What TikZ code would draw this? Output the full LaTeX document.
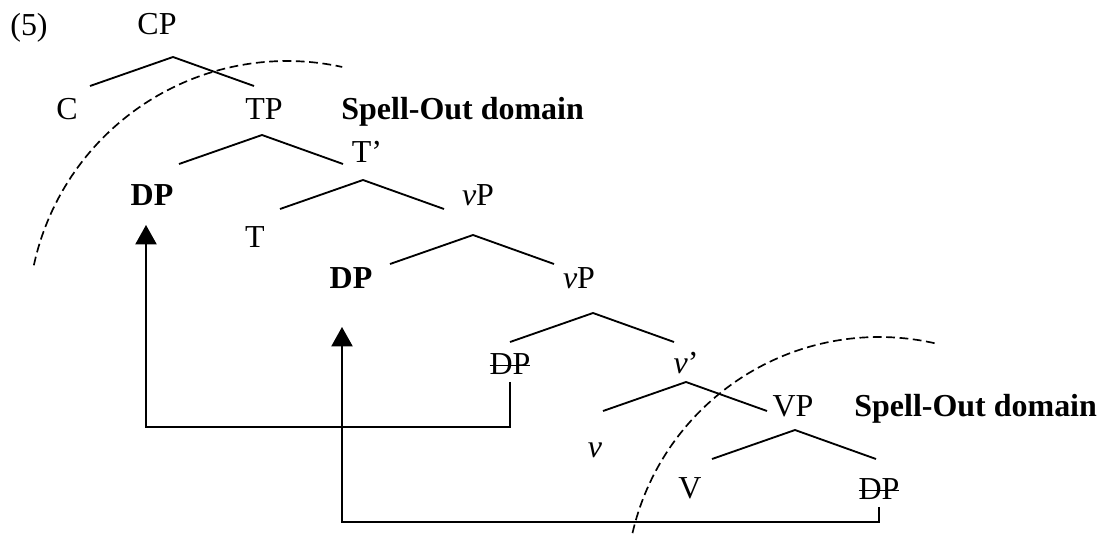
\documentclass[tikz,border=0pt]{standalone}
\usepackage{fontspec}
\setmainfont{Liberation Serif}
\usetikzlibrary{arrows.meta}
\newcommand{\struck}[1]{\setbox0\hbox{#1}\rlap{\rule[0.24em]{\wd0}{1pt}}\box0}

\begin{document}
\begin{tikzpicture}[x=0.02cm, y=0.02cm,
  every node/.style={inner sep=0pt, font=\fontsize{18.2}{22}\selectfont},
  lab/.style={anchor=base},
  trace/.style={anchor=base, outer sep=4.5pt},
  branch/.style={line width=1.05pt},
  phase/.style={line width=0.95pt, dash pattern=on 5pt off 2.6pt},
  mv/.style={line width=1.05pt, -{Triangle[length=11pt,width=12pt]}}]
\useasboundingbox (0,0) rectangle (1101,-537);

% Example number
\node[lab] (ex) at (29,-36) {(5)};

% Labels of the tree
\node[lab] (cp) at (157,-35) {CP};
\node[lab] (c) at (67,-119) {C};
\node[lab] (tp) at (264,-119) {TP};
\node[lab] (tbar) at (367,-162) {T’};
\node[lab] (dpA) at (152,-205) {\textbf{DP}};
\node[lab] (t) at (255,-247) {T};
\node[lab] (vpA) at (478,-205) {\textit{v}P};
\node[lab] (dpB) at (351,-288) {\textbf{DP}};
\node[lab] (vpB) at (579,-288) {\textit{v}P};
\node[trace] (dpC) at (510,-374) {\struck{DP}};
\node[lab] (vbar) at (686,-373) {\textit{v}’};
\node[lab] (v) at (595,-457) {\textit{v}};
\node[lab] (vpV) at (793,-416) {VP};
\node[lab] (verb) at (690,-498) {V};
\node[trace] (dpD) at (879,-499) {\struck{DP}};

% Spell-Out labels
\node[anchor=base west] (soA) at (341,-119) {\textbf{Spell-Out domain}};
\node[anchor=base west] (soB) at (854,-416) {\textbf{Spell-Out domain}};

% Branches (apex points)
\foreach \x/\y in {173/-57, 262/-135, 363/-180, 473/-235, 593/-313, 686/-382, 795/-430}
\draw[branch] (\x-83,\y-29) -- (\x,\y) -- (\x+81,\y-29);

% Phase boundaries
\draw[phase] (287,-320) ++(167.8:259) arc[start angle=167.8, end angle=77.7, radius=259];
\draw[phase] (879,-590) ++(167:253) arc[start angle=167, end angle=76.7, radius=253];

% Movement arrows
\coordinate (landA) at (146,-225);
\coordinate (landB) at (342,-327);
\draw[mv] (dpC.south) -- ++(0,-45) -| (landA);
\draw[mv] (dpD.south) -- ++(0,-15) -| (landB);

\end{tikzpicture}
\end{document}
